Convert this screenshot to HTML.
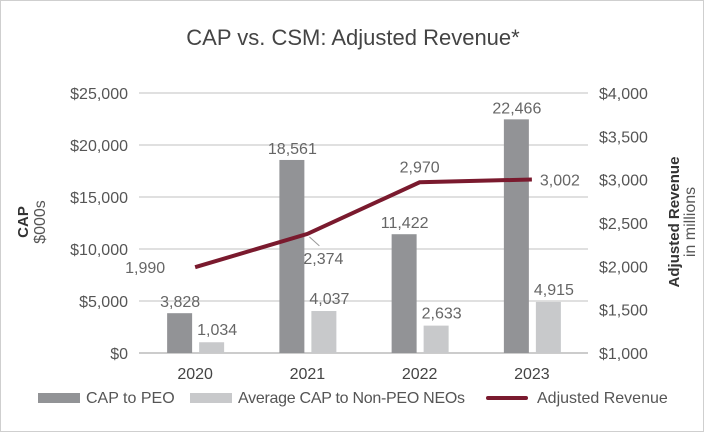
<!DOCTYPE html>
<html><head><meta charset="utf-8"><style>
body{margin:0;background:#fff;}
svg{display:block;font-family:"Liberation Sans",sans-serif;}
</style></head><body>
<svg id="chart" width="706" height="433" viewBox="0 0 706 433">
<rect x="0.5" y="0.5" width="703" height="431" fill="#fff" stroke="#cfcfcf"/>
<text x="353" y="45" text-anchor="middle" font-size="22" fill="#444">CAP vs. CSM: Adjusted Revenue*</text>
<g id="grid"></g>
<g id="bars"></g>
<g id="line"></g>
<g id="axes"></g>
<g transform="translate(28,222) rotate(-90)">
<text x="0" y="0" text-anchor="middle" font-size="15" font-weight="bold" fill="#333">CAP</text>
<text x="0" y="17" text-anchor="middle" font-size="16" fill="#555">$000s</text>
</g>
<g transform="translate(679,222) rotate(-90)">
<text x="0" y="0" text-anchor="middle" font-size="15" font-weight="bold" fill="#333">Adjusted Revenue</text>
<text x="0" y="16" text-anchor="middle" font-size="16" fill="#555">in millions</text>
</g>
<g>
<rect x="38" y="393" width="42" height="10" fill="#929396"/>
<text x="86" y="403" font-size="16" fill="#555">CAP to PEO</text>
<rect x="190" y="393" width="42" height="10" fill="#c8c9cb"/>
<text x="238" y="403" font-size="16" fill="#555" textLength="227">Average CAP to Non-PEO NEOs</text>
<rect x="486" y="396" width="42" height="4" rx="2" fill="#7a1a2e"/>
<text x="537" y="403" font-size="16" fill="#555">Adjusted Revenue</text>
</g>
</svg>
<script>
const categories=["2020","2021","2022","2023"];
const capPeo=[3828,18561,11422,22466];
const capNonPeo=[1034,4037,2633,4915];
const revenue=[1990,2374,2970,3002];
const leftTicks=[0,5000,10000,15000,20000,25000];
const rightTicks=[1000,1500,2000,2500,3000,3500,4000];
const NS="http://www.w3.org/2000/svg";
const x0=139,x1=588,yTop=93,yBot=353;
const band=(x1-x0)/categories.length;
const cx=i=>x0+band*(i+0.5);
const yL=v=>yBot-(v/25000)*(yBot-yTop);
const yR=v=>yBot-((v-1000)/3000)*(yBot-yTop);
const fmt=v=>v.toLocaleString('en-US');
function mk(tag,attrs,parent,txt){const e=document.createElementNS(NS,tag);for(const k in attrs)e.setAttribute(k,attrs[k]);if(txt!==undefined)e.textContent=txt;parent.appendChild(e);return e;}
const grid=document.getElementById('grid'),axes=document.getElementById('axes'),bars=document.getElementById('bars'),line=document.getElementById('line');
leftTicks.forEach(t=>{
 const l=mk('line',{x1:x0,x2:x1,y1:yL(t),y2:yL(t),stroke:t===0?'#bbb':'#d6d6d6','stroke-width':1.5},grid);
 
 
 const tx=mk('text',{x:128,y:yL(t)+6,'text-anchor':'end','font-size':16,fill:'#555'},axes,'$'+fmt(t));
 
 
});
rightTicks.forEach(t=>{
 const tx=mk('text',{x:599,y:yR(t)+6,'font-size':16,fill:'#555'},axes,'$'+fmt(t));
 
 
});
categories.forEach((c,i)=>{
 const tx=mk('text',{x:cx(i),y:379,'text-anchor':'middle','font-size':16,fill:'#444'},axes,c);
 
 
 const b1=mk('rect',{x:cx(i)-28,y:yL(capPeo[i]),width:25,height:yBot-yL(capPeo[i]),fill:'#929396'},bars);
 
 
 const l1=mk('text',{x:cx(i)-15,y:yL(capPeo[i])-6,'text-anchor':'middle','font-size':16,fill:'#666'},bars,fmt(capPeo[i]));
 
 
 const b2=mk('rect',{x:cx(i)+4,y:yL(capNonPeo[i]),width:25,height:yBot-yL(capNonPeo[i]),fill:'#c8c9cb'},bars);
 
 
 const l2=mk('text',{x:cx(i)+22,y:yL(capNonPeo[i])-7,'text-anchor':'middle','font-size':16,fill:'#666'},bars,fmt(capNonPeo[i]));
 
 
});
const pts=revenue.map((v,i)=>cx(i)+','+yR(v)).join(' ');
const pl=mk('polyline',{points:pts,fill:'none',stroke:'#7a1a2e','stroke-width':4},line);


const ld=mk('line',{x1:cx(1)+2,y1:yR(revenue[1])+3,x2:cx(1)+12,y2:yR(revenue[1])+12,stroke:'#999','stroke-width':1},line);


const offs=[[-50,6,'middle'],[-4,30,'start'],[0,-10,'middle'],[8,6,'start']];
revenue.forEach((v,i)=>{
 const o=offs[i];
 const tx=mk('text',{x:cx(i)+o[0],y:yR(v)+o[1],'text-anchor':o[2],'font-size':16,fill:'#666'},line,fmt(v));
 
 
});
</script>
</body></html>
